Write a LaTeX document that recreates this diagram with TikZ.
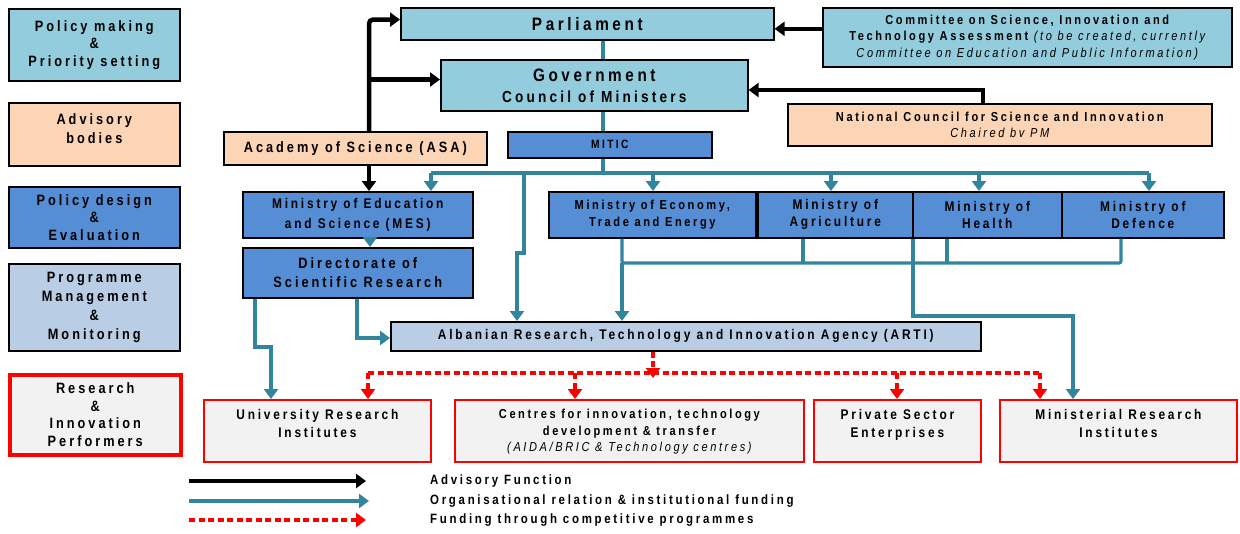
\documentclass[tikz,border=0pt]{standalone}
\usepackage{fontspec}
\newfontfamily\lsf{Liberation Sans}[LetterSpace=20, FakeStretch=0.85]
\usetikzlibrary{arrows.meta,calc}
\newcommand\myfs[2]{\fontsize{#1}{#2}\selectfont}
\definecolor{cPol}{RGB}{147,205,221}
\definecolor{cAdv}{RGB}{251,213,181}
\definecolor{cDes}{RGB}{85,142,213}
\definecolor{cPrg}{RGB}{185,205,229}
\definecolor{cPer}{RGB}{242,242,242}
\definecolor{cTeal}{RGB}{49,133,156}
\tikzset{
 box/.style={draw=black, line width=1.6pt, inner sep=0pt, anchor=north west, align=center, font=\lsf\bfseries\myfs{14}{18}},
 pol/.style={box, fill=cPol},
 adv/.style={box, fill=cAdv},
 des/.style={box, fill=cDes},
 prg/.style={box, fill=cPrg},
 per/.style={box, fill=cPer, draw=red, line width=1.8pt},
 lgbox/.style={minimum width=171pt, font=\lsf\bfseries\myfs{15}{17.5}},
 txt/.style={inner sep=0pt, align=center, font=\lsf\bfseries\myfs{14}{18}},
 tip/.style={-{Triangle[width=14pt,length=10pt]}},
 advline/.style={line width=4.5pt, black, tip},
 orgplain/.style={line width=3.2pt, cTeal},
 orgline/.style={orgplain, tip},
 orgthick/.style={orgline, line width=4.8pt},
 compplain/.style={line width=4pt, red, dash pattern=on 6pt off 3.5pt},
 compline/.style={compplain, tip},
}
\begin{document}
\begin{tikzpicture}[x=1pt,y=-1pt]
\useasboundingbox (0,0) rectangle (1240,533);

% ---- legend boxes (left column)
\node[pol, lgbox, minimum height=72pt] (lgpol) at (8,8) {Policy making\\\&\\Priority setting};
\node[adv, lgbox, minimum height=63pt] (lgadv) at (8,102) {};
\node[txt, font=\lsf\bfseries\myfs{15}{19}] (lgadvt) at ($(lgadv.center)+(0,-6)$) {Advisory\\bodies};
\node[des, lgbox, minimum height=61pt] (lgdes) at (8,186) {Policy design\\\&\\Evaluation};
\node[prg, lgbox, minimum height=87pt, font=\lsf\bfseries\myfs{15}{19}] (lgprg) at (8,263) {Programme\\Management\\\&\\Monitoring};
\node[per, lgbox, line width=3.5pt, minimum height=80pt] (lgper) at (8,373) {Research\\\&\\Innovation\\Performers};

% ---- main boxes
\node[pol, minimum width=373pt, minimum height=32pt, font=\lsf\bfseries\myfs{18}{20}] (parl) at (400,7) {Parliament};
\node[pol, minimum width=409pt, minimum height=59pt, font=\lsf\bfseries\myfs{13}{16.5}] (comm) at (822,7)
  {Committee on Science, Innovation and\\Technology Assessment {\mdseries\itshape(to be created, currently}\\{\mdseries\itshape Committee on Education and Public Information)}};
\node[pol, minimum width=307pt, minimum height=51pt, font=\lsf\bfseries\myfs{18}{21}] (gov) at (440,59) {Government\\{\myfs{16}{18}Council of Ministers}};
\node[adv, minimum width=424pt, minimum height=42pt, font=\lsf\bfseries\myfs{13}{16}] (ncsi) at (787,103)
  {National Council for Science and Innovation\\{\mdseries\itshape Chaired bv PM}};
\node[adv, minimum width=263pt, minimum height=33pt, font=\lsf\bfseries\myfs{15}{18}] (acad) at (223,131) {Academy of Science (ASA)};
\node[des, minimum width=204pt, minimum height=26pt, font=\lsf\bfseries\myfs{12}{14}] (mitic) at (507,131) {MITIC};
\node[des, minimum width=230pt, minimum height=46pt, font=\lsf\bfseries\myfs{14}{20}] (mes) at (242,191) {Ministry of Education\\and Science (MES)};
\node[des, minimum width=230pt, minimum height=50pt, font=\lsf\bfseries\myfs{15}{19}] (dsr) at (242,247) {Directorate of\\Scientific Research};
\node[des, minimum width=207pt, minimum height=46pt, font=\lsf\bfseries\myfs{13}{17}] (econ) at (548,191) {Ministry of Economy,\\Trade and Energy};
\node[des, minimum width=155pt, minimum height=46pt, font=\lsf\bfseries\myfs{14}{17}] (agr) at (757,191) {Ministry of\\Agriculture};
\node[des, minimum width=149pt, minimum height=46pt, font=\lsf\bfseries\myfs{14}{17}] (hea) at (912,191) {Ministry of\\Health};
\node[des, minimum width=162pt, minimum height=46pt, font=\lsf\bfseries\myfs{14}{17}] (def) at (1061,191) {Ministry of\\Defence};
\node[prg, minimum width=590pt, minimum height=29pt] (arti) at (390,321) {Albanian Research, Technology and Innovation Agency (ARTI)};
\node[per, minimum width=227pt, minimum height=62pt] (uri) at (203,399) {};
\node[per, minimum width=349pt, minimum height=62pt] (cen) at (454,399) {};
\node[per, minimum width=167pt, minimum height=62pt] (pse) at (813,399) {};
\node[per, minimum width=237pt, minimum height=62pt] (mri) at (999,399) {};
\node[txt, anchor=north] (urit) at ($(uri.north)+(0,10)$) {University Research\\Institutes};
\node[txt, anchor=north, font=\lsf\bfseries\myfs{13}{16.5}] (cent) at ($(cen.north)+(0,10)$) {Centres for innovation, technology\\development \& transfer\\{\mdseries\itshape (AIDA/BRIC \& Technology centres)}};
\node[txt, anchor=north] (pset) at ($(pse.north)+(0,10)$) {Private Sector\\Enterprises};
\node[txt, anchor=north] (mrit) at ($(mri.north)+(0,10)$) {Ministerial Research\\Institutes};

% ---- advisory (black) connectors
\coordinate (bk) at (369,0);
\coordinate (pA) at ($(parl.north west)!0.375!(parl.south west)$);
\coordinate (gA) at ($(gov.north west)!0.39!(gov.south west)$);
\draw[advline, rounded corners=4pt] (acad.north -| bk) |- (pA);
\draw[advline] (bk |- gA) -- (gA);
\draw[advline] (acad.south -| bk) -- (mes.north -| bk);
\coordinate (cA) at ($(comm.north west)!0.36!(comm.south west)$);
\draw[advline] (cA) -- (cA -| parl.east);
\coordinate (nc1) at (983,90);
\draw[advline] (ncsi.north -| nc1) |- (gov.east |- nc1);

% ---- organisational (teal) connectors
\coordinate (tx) at (603,0);
\draw[orgplain] (parl.south -| tx) -- (gov.north -| tx);
\draw[orgplain] (gov.south -| tx) -- (mitic.north -| tx);
\coordinate (busL) at (431,173);
\coordinate (busR) at (1149,173);
\draw[orgplain] (mitic.south -| tx) -- (tx |- busL);
\draw[orgplain] (busL) -- (busR);
\draw[orgline] (busL) -- (mes.north -| busL);
\coordinate (bE) at (653,173);
\coordinate (bA) at (831,173);
\coordinate (bH) at (979,173);
\draw[orgline] (bE) -- (econ.north -| bE);
\draw[orgline] (bA) -- (agr.north -| bA);
\draw[orgline] (bH) -- (hea.north -| bH);
\draw[orgline] (busR) -- (def.north -| busR);
\coordinate (b1) at (524,173);
\coordinate (b2) at (517,253);
\draw[orgline, line width=3.6pt] (b1) |- (b2) -- (arti.north -| b2);
\coordinate (m1) at (370,0);
\draw[orgline] (mes.south -| m1) -- (dsr.north -| m1);
% lower bus
\coordinate (lb1) at (622,263);
\coordinate (lbR) at (1121,263);
\draw[orgplain, rounded corners=2pt] (econ.south -| lb1) -- (lb1) -- (lbR) -- (def.south -| lbR);
\coordinate (lbA) at (803,263);
\coordinate (lbH) at (947,263);
\draw[orgplain] (agr.south -| lbA) -- (lbA);
\draw[orgplain] (hea.south -| lbH) -- (lbH);
\draw[orgline, line width=3.8pt] (lb1) -- (arti.north -| lb1);
\coordinate (h1) at (913,316);
\coordinate (h2) at (1073,316);
\draw[orgline] (hea.south -| h1) |- (h2) -- (mri.north -| h2);
% directorate
\coordinate (d1) at (357,338);
\draw[orgthick] (dsr.south -| d1) |- (arti.west |- d1);
\coordinate (d2) at (255,347);
\coordinate (d3) at (271,347);
\draw[orgthick] (dsr.south -| d2) -- (d2) -- (d3) -- (uri.north -| d3);

% ---- competitive funding (red dashed)
\coordinate (r0) at (653,378);
\draw[compline] (arti.south -| r0) -- (r0);
\coordinate (rL) at (368,373);
\coordinate (rR) at (1040,373);
\draw[compplain] (rL) -- (rR);
\coordinate (rC) at (575,373);
\coordinate (rP) at (897,373);
\draw[compline] (rL) -- (uri.north -| rL);
\draw[compline] (rC) -- (cen.north -| rC);
\draw[compline] (rP) -- (pse.north -| rP);
\draw[compline] (rR) -- (mri.north -| rR);

% ---- legend (bottom)
\coordinate (l1a) at (189,481); \coordinate (l1b) at (366,481);
\coordinate (l2a) at (189,501); \coordinate (l2b) at (369,501);
\coordinate (l3a) at (189,520); \coordinate (l3b) at (366,520);
\draw[advline, line width=3.6pt] (l1a) -- (l1b);
\draw[orgline, line width=4.8pt] (l2a) -- (l2b);
\draw[compline] (l3a) -- (l3b);
\node[txt, anchor=west, font=\lsf\bfseries\myfs{13.5}{18}] (lt1) at (430,481) {Advisory Function};
\node[txt, anchor=west, font=\lsf\bfseries\myfs{13.5}{18}] (lt2) at (430,501) {Organisational relation \& institutional funding};
\node[txt, anchor=west, font=\lsf\bfseries\myfs{13.5}{18}] (lt3) at (430,520) {Funding through competitive programmes};
\end{tikzpicture}
\end{document}
